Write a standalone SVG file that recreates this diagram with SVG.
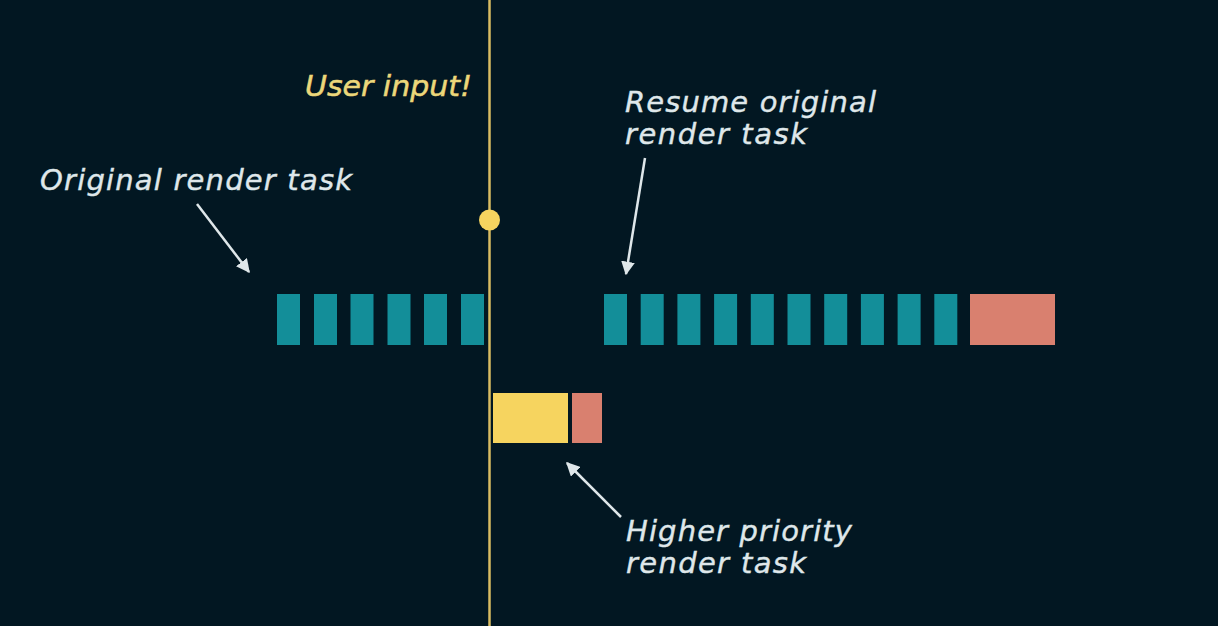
<svg xmlns="http://www.w3.org/2000/svg" width="1218" height="626" viewBox="0 0 1218 626">
<defs>
<style>
.bg{fill:#021722}
.bar{fill:#138e99}
.hi{fill:#f6d45f}
.red{fill:#d9806f}
.lbl{font-family:"DejaVu Sans","Liberation Sans",sans-serif;font-style:italic;font-size:29px;fill:#dfe7ea;stroke:#dfe7ea;stroke-width:0.4}
.ui{font-family:"DejaVu Sans","Liberation Sans",sans-serif;font-style:italic;font-size:29px;fill:#ecd77a;stroke:#ecd77a;stroke-width:0.5}
.arr{stroke:#dfe7ea;stroke-width:2.5;fill:none;marker-end:url(#ah)}
</style>
<marker id="ah" viewBox="0 0 10 10" refX="9" refY="5" markerWidth="5.5" markerHeight="5.5" orient="auto" markerUnits="strokeWidth">
<path d="M0,0 L10,5 L0,10 z" fill="#dfe7ea"/>
</marker>
</defs>
<rect class="bg" x="0" y="0" width="1218" height="626"/>

<g id="original-task">
<rect class="bar" x="277" y="294" width="23" height="51"/>
<rect class="bar" x="314" y="294" width="23" height="51"/>
<rect class="bar" x="350.5" y="294" width="23" height="51"/>
<rect class="bar" x="387.5" y="294" width="23" height="51"/>
<rect class="bar" x="424" y="294" width="23" height="51"/>
<rect class="bar" x="461" y="294" width="23" height="51"/>
</g>

<g id="resumed-task">
<rect class="bar" x="604" y="294" width="23" height="51"/>
<rect class="bar" x="640.7" y="294" width="23" height="51"/>
<rect class="bar" x="677.4" y="294" width="23" height="51"/>
<rect class="bar" x="714.1" y="294" width="23" height="51"/>
<rect class="bar" x="750.8" y="294" width="23" height="51"/>
<rect class="bar" x="787.5" y="294" width="23" height="51"/>
<rect class="bar" x="824.2" y="294" width="23" height="51"/>
<rect class="bar" x="860.9" y="294" width="23" height="51"/>
<rect class="bar" x="897.6" y="294" width="23" height="51"/>
<rect class="bar" x="934.3" y="294" width="23" height="51"/>
<rect class="red" x="970" y="294" width="85" height="51"/>
</g>

<g id="high-priority-task">
<rect class="hi" x="493" y="393" width="75" height="50"/>
<rect class="red" x="572" y="393" width="30" height="50"/>
</g>

<g id="user-input">
<line x1="489.5" y1="0" x2="489.5" y2="626" stroke="#d9bc62" stroke-width="2.5"/>
<circle cx="489.5" cy="220" r="10.5" fill="#f6d45f"/>
<text class="ui" x="305" y="96" textLength="167" lengthAdjust="spacingAndGlyphs">User input!</text>
</g>

<g id="label-original">
<text class="lbl" x="40" y="190" textLength="312" lengthAdjust="spacing">Original render task</text>
</g>
<g id="label-resume">
<text class="lbl" x="625" y="112" textLength="251" lengthAdjust="spacing">Resume original</text>
<text class="lbl" x="625" y="144" textLength="182" lengthAdjust="spacing">render task</text>
</g>
<g id="label-higher">
<text class="lbl" x="626" y="541" textLength="226" lengthAdjust="spacing">Higher priority</text>
<text class="lbl" x="626" y="573" textLength="180" lengthAdjust="spacing">render task</text>
</g>

<g id="connectors">
<line class="arr" x1="197" y1="204" x2="249" y2="272"/>
<line class="arr" x1="645" y1="158" x2="626" y2="274"/>
<line class="arr" x1="621" y1="517" x2="567" y2="463"/>
</g>
</svg>
